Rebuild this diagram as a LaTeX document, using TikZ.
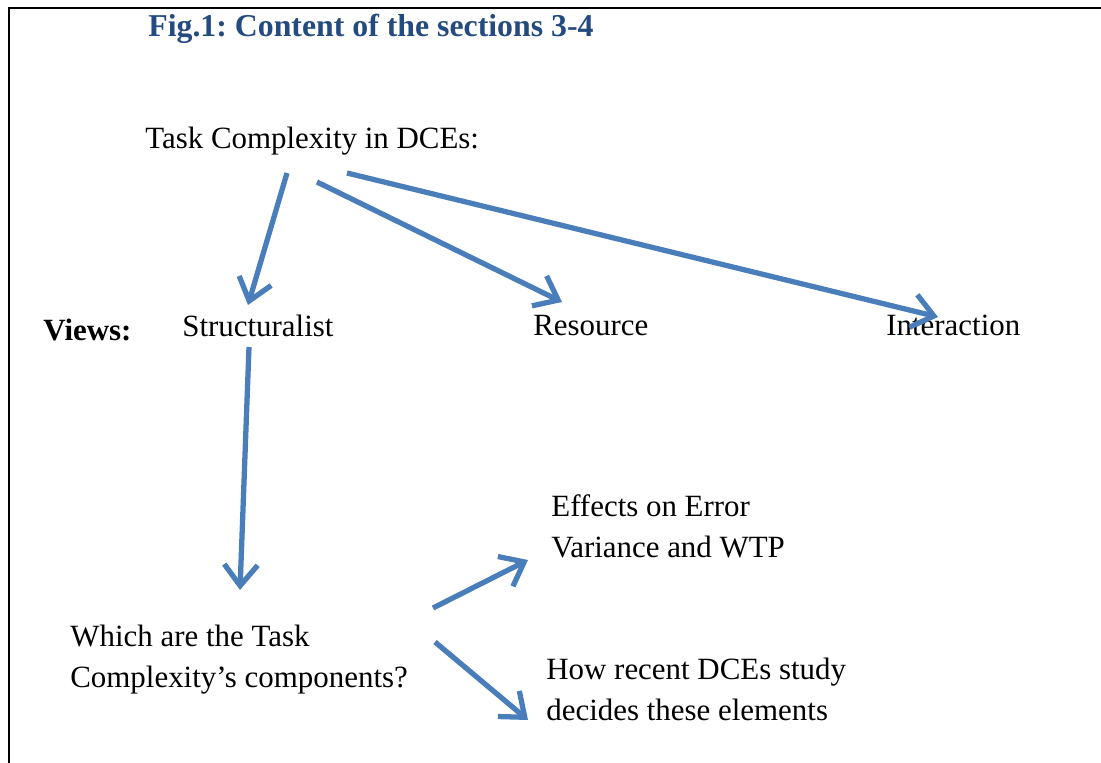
\documentclass[tikz,border=0pt]{standalone}
\usepackage{fontspec}
\setmainfont{Liberation Serif}
\usepackage{xcolor}
\usetikzlibrary{arrows.meta, calc, positioning}

\definecolor{figblue}{RGB}{36,75,128}
\definecolor{arrowblue}{RGB}{74,126,187}

\tikzset{
    lbl/.style={anchor=base west, inner sep=0pt, align=left, font=\fontsize{17.6}{23.2}\selectfont},
    arr/.style={draw=arrowblue, line width=3pt, -{Straight Barb[length=12pt, width=19pt]}}
}

\frenchspacing
\begin{document}
\begin{tikzpicture}[x=0.02cm, y=-0.02cm]
                            \useasboundingbox (0,0) rectangle (1101,763);
                            \draw[line width=1.2pt] (9,763) -- (9,8) -- (1101,8);

                            \node[lbl, font=\fontsize{18.1}{22}\selectfont\bfseries, text=figblue] (title) at (148,37) {Fig.1: Content of the sections 3-4};

                            \node[lbl] (task) at (145,149) {Task Complexity in DCEs:};

                            \node[lbl, font=\fontsize{17.6}{22}\selectfont\bfseries] (views) at (43,340) {Views:};
                            \node[lbl] (struct) at (182,337) {Structuralist};
                            \node[lbl] (res) at (533,336) {Resource};
                            \node[lbl] (inter) at (886,336) {Interaction};

                            % two-line labels: base is the second line
                            \node[lbl] (effects) at (551,557) {Effects on Error\\Variance and WTP};
                            \node[lbl] (which) at (70,687) {Which are the Task\\Complexity’s components?};
                            \node[lbl] (how) at (546,720) {How recent DCEs study\\decides these elements};

                            \draw[arr] ($(task.base west)+(142,24)$) -- ($(struct.base west)+(66,-32)$);
                            \draw[arr] ($(task.base west)+(172,33)$) -- ($(res.base west)+(29,-34)$);
                            \draw[arr] ($(task.base west)+(202,24)$) -- ($(inter.base west)+(52,-19)$);
                            \draw[arr] ($(struct.base west)+(67,10)$) -- ($(which.base west)+(170,-97)$);
                            \draw[arr] ($(which.base west)+(363,-79)$) -- ($(effects.base west)+(-23,3)$);
                            \draw[arr] ($(which.base west)+(365,-45)$) -- ($(how.base west)+(-18,0)$);
                        \end{tikzpicture}
\end{document}
